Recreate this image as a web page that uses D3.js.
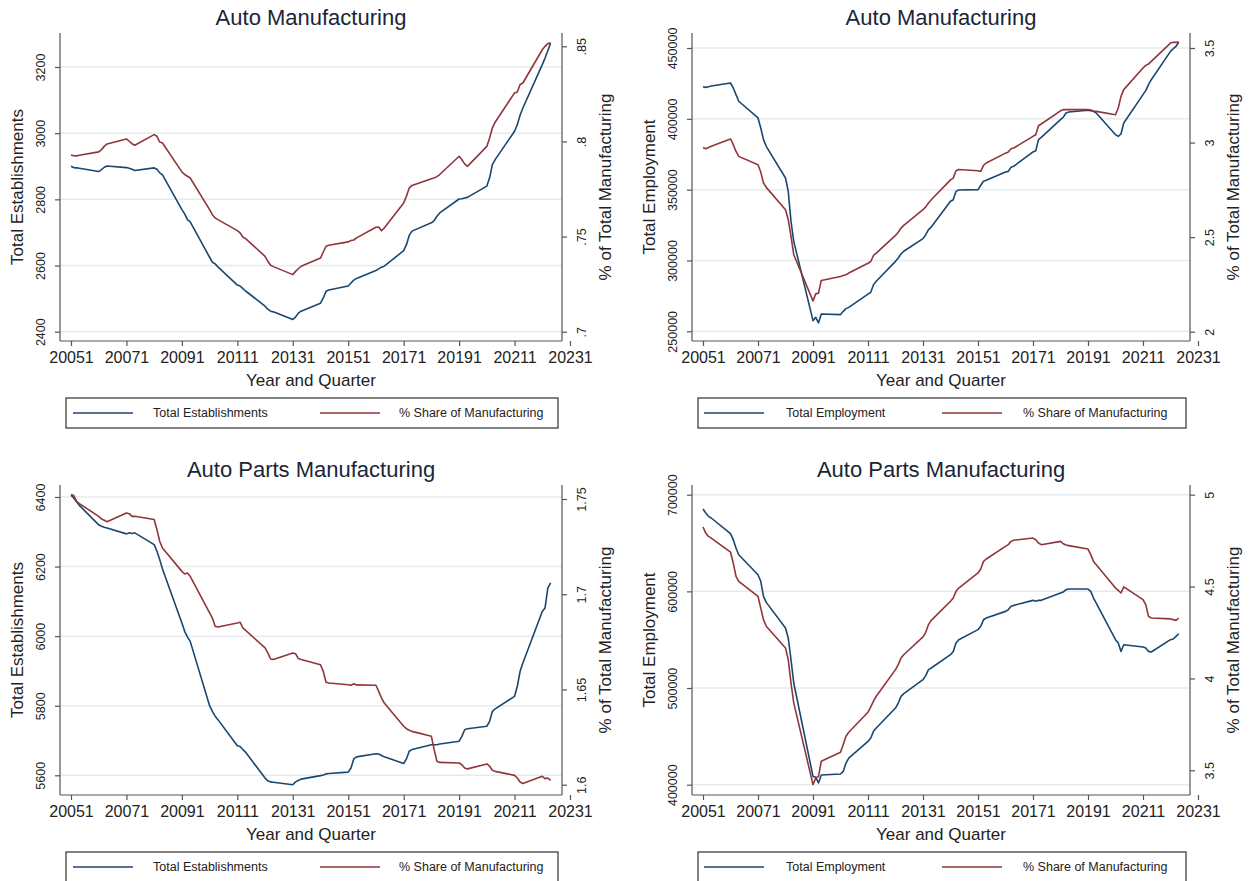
<!DOCTYPE html>
<html>
<head>
<meta charset="utf-8">
<script src="https://cdn.jsdelivr.net/npm/d3@7"></script>
<style>
  body { margin: 0; background: #fff; }
  svg { display: block; font-family: "Liberation Sans", Arial, sans-serif; }
</style>
</head>
<body>
<svg id="chart" width="1252" height="881"></svg>
<script>
// year*10 + quarter, as Stata stores it
const quarters = [
  20051, 20052, 20053, 20054, 20061, 20062, 20063, 20064,
  20071, 20072, 20073, 20074, 20081, 20082, 20083, 20084,
  20091, 20092, 20093, 20094, 20101, 20102, 20103, 20104,
  20111, 20112, 20113, 20114, 20121, 20122, 20123, 20124,
  20131, 20132, 20133, 20134, 20141, 20142, 20143, 20144,
  20151, 20152, 20153, 20154, 20161, 20162, 20163, 20164,
  20171, 20172, 20173, 20174, 20181, 20182, 20183, 20184,
  20191, 20192, 20193, 20194, 20201, 20202, 20203, 20204,
  20211, 20212, 20213, 20214, 20221, 20222, 20223, 20224
];
const xTicks = [20051, 20071, 20091, 20111, 20131, 20151, 20171, 20191, 20211, 20231];

// Auto manufacturing - establishments
const autoEstab = [
  2900, 2896, 2895, 2894, 2884, 2890, 2897, 2901,
  2896, 2894, 2891, 2887, 2895, 2891, 2880, 2874,
  2769, 2756, 2739, 2732, 2625, 2610, 2605, 2596,
  2541, 2538, 2530, 2523, 2477, 2468, 2462, 2460,
  2437, 2444, 2456, 2462, 2486, 2502, 2522, 2526,
  2538, 2547, 2556, 2561, 2585, 2590, 2595, 2598,
  2645, 2663, 2691, 2704, 2729, 2736, 2749, 2759,
  2801, 2802, 2804, 2806, 2840, 2865, 2905, 2920,
  3006, 3026, 3054, 3076, 3207, 3227, 3249, 3272
];
const autoEstabShare = [
  .7929, .7925, .7924, .7927, .7945, .7957, .7974, .7987,
  .8013, .8001, .7988, .7980, .8036, .8027, .7997, .7992,
  .7840, .7826, .7817, .7808, .7642, .7615, .7598, .7589,
  .7531, .7519, .7498, .7489, .7396, .7370, .7349, .7342,
  .7300, .7317, .7331, .7344, .7387, .7419, .7449, .7454,
  .7472, .7479, .7482, .7493, .7549, .7550, .7531, .7545,
  .7677, .7712, .7755, .7769, .7804, .7808, .7815, .7826,
  .7922, .7904, .7882, .7869, .7974, .8018, .8071, .8101,
  .8255, .8260, .8299, .8307, .8482, .8500, .8514, .8518
];

// Auto manufacturing - employment
const autoEmp = [
  422700, 422200, 422700, 423200, 425300, 421800, 417100, 412400,
  400600, 393500, 385300, 380600, 358200, 348800, 327600, 313500,
  257500, 259900, 255900, 262200, 261800, 264100, 266000, 266900,
  276300, 277500, 282900, 285300, 299400, 301800, 304600, 306500,
  315400, 318200, 321800, 323600, 341800, 342900, 348800, 349800,
  350000, 353100, 355900, 356600, 362500, 362900, 365800, 366500,
  376600, 377500, 385300, 386900, 399400, 401100, 404100, 404800,
  406000, 405800, 405300, 404100, 388800, 387600, 389300, 397100,
  417100, 419900, 424100, 427600, 447600, 449500, 451200, 454200
];
const autoEmpShare = [
  2.974, 2.967, 2.974, 2.980, 3.019, 2.989, 2.953, 2.927,
  2.883, 2.844, 2.786, 2.763, 2.645, 2.592, 2.504, 2.407,
  2.163, 2.200, 2.204, 2.271, 2.292, 2.297, 2.301, 2.310,
  2.362, 2.371, 2.403, 2.415, 2.509, 2.526, 2.548, 2.562,
  2.645, 2.660, 2.680, 2.698, 2.803, 2.812, 2.851, 2.858,
  2.851, 2.847, 2.879, 2.892, 2.944, 2.950, 2.967, 2.971,
  3.033, 3.041, 3.089, 3.098, 3.168, 3.174, 3.174, 3.174,
  3.175, 3.172, 3.167, 3.165, 3.147, 3.183, 3.244, 3.280,
  3.394, 3.408, 3.415, 3.429, 3.526, 3.530, 3.530, 3.532
];

// Auto parts manufacturing - establishments
const partsEstab = [
  6405, 6397, 6386, 6376, 6320, 6316, 6313, 6311,
  6294, 6297, 6295, 6297, 6263, 6244, 6220, 6193,
  6038, 6014, 5998, 5985, 5800, 5784, 5770, 5760,
  5685, 5683, 5674, 5666, 5592, 5584, 5581, 5580,
  5573, 5581, 5585, 5589, 5599, 5601, 5604, 5605,
  5609, 5621, 5647, 5653, 5662, 5661, 5657, 5653,
  5634, 5647, 5669, 5674, 5688, 5688, 5688, 5690,
  5698, 5712, 5731, 5734, 5741, 5755, 5784, 5791,
  5827, 5856, 5899, 5923, 6071, 6081, 6138, 6153
];
const partsEstabShare = [
  1.7523, 1.7518, 1.7488, 1.7476, 1.7409, 1.7395, 1.7388, 1.7381,
  1.7427, 1.7423, 1.7409, 1.7409, 1.7392, 1.7339, 1.7278, 1.7243,
  1.7120, 1.7106, 1.7111, 1.7094, 1.6902, 1.6875, 1.6832, 1.6828,
  1.6849, 1.6853, 1.6823, 1.6810, 1.6718, 1.6692, 1.6660, 1.6657,
  1.6692, 1.6688, 1.6662, 1.6657, 1.6630, 1.6595, 1.6538, 1.6534,
  1.6525, 1.6522, 1.6530, 1.6524, 1.6522, 1.6490, 1.6455, 1.6429,
  1.6307, 1.6294, 1.6286, 1.6280, 1.6254, 1.6184, 1.6123, 1.6117,
  1.6114, 1.6105, 1.6088, 1.6083, 1.6109, 1.6097, 1.6076, 1.6070,
  1.6049, 1.6035, 1.6014, 1.6006, 1.6044, 1.6032, 1.6035, 1.6023
];

// Auto parts manufacturing - employment
const partsEmp = [
  685200, 681000, 677600, 675900, 659700, 653500, 644800, 637900,
  617200, 610400, 594800, 588600, 562100, 551700, 529300, 505200,
  408600, 407600, 401800, 410000, 411100, 413800, 422400, 427600,
  444800, 448300, 455200, 458600, 479300, 484500, 491400, 494200,
  508600, 512800, 519000, 520700, 534500, 537900, 546600, 550000,
  560400, 563800, 570700, 572400, 579300, 581000, 584500, 585500,
  590700, 589700, 590700, 590700, 598300, 599300, 601700, 602400,
  602400, 600000, 593100, 587900, 550000, 546600, 537900, 544800,
  542400, 541400, 537900, 537300, 550000, 550700, 553500, 556200
];
const partsEmpShare = [
  4.824, 4.791, 4.773, 4.764, 4.688, 4.628, 4.556, 4.528,
  4.447, 4.383, 4.320, 4.284, 4.166, 4.102, 3.975, 3.867,
  3.422, 3.458, 3.467, 3.549, 3.598, 3.640, 3.685, 3.707,
  3.816, 3.845, 3.876, 3.903, 4.048, 4.075, 4.111, 4.129,
  4.226, 4.251, 4.293, 4.316, 4.420, 4.438, 4.474, 4.492,
  4.574, 4.596, 4.637, 4.650, 4.719, 4.728, 4.746, 4.752,
  4.764, 4.755, 4.737, 4.728, 4.746, 4.733, 4.726, 4.723,
  4.704, 4.674, 4.637, 4.619, 4.492, 4.479, 4.465, 4.498,
  4.429, 4.402, 4.338, 4.329, 4.324, 4.320, 4.316, 4.329
];

// axis ticks
const autoEstabTicks = [2400, 2600, 2800, 3000, 3200];
const autoEstabShareTicks = [0.7, 0.75, 0.8, 0.85];
const autoEmpTicks = [250000, 300000, 350000, 400000, 450000];
const autoEmpShareTicks = [2, 2.5, 3, 3.5];
const partsEstabTicks = [5600, 5800, 6000, 6200, 6400];
const partsEstabShareTicks = [1.6, 1.65, 1.7, 1.75];
const partsEmpTicks = [400000, 500000, 600000, 700000];
const partsEmpShareTicks = [3.5, 4, 4.5, 5];

const blue = "#1a476f";
const red = "#90353b";
const shareLabel = "% Share of Manufacturing";

const panels = [
  { title: "Auto Manufacturing", left: 60, right: 562, top: 33, bottom: 341,
    lTitle: "Total Establishments", lName: "Total Establishments",
    lVals: autoEstab, lTicks: autoEstabTicks, lRange: [331.7, 67],
    rVals: autoEstabShare, rTicks: autoEstabShareTicks, rRange: [331.7, 46.3],
    legend: { x: 66, w: 492, s1: 7, t1: 87, s2: 254, t2: 333 } },
  { title: "Auto Manufacturing", left: 692, right: 1190, top: 33, bottom: 341,
    lTitle: "Total Employment", lName: "Total Employment",
    lVals: autoEmp, lTicks: autoEmpTicks, lRange: [331.3, 48],
    rVals: autoEmpShare, rTicks: autoEmpShareTicks, rRange: [331.7, 48],
    legend: { x: 698, w: 488, s1: 6, t1: 88, s2: 244, t2: 325 } },
  { title: "Auto Parts Manufacturing", left: 60, right: 562, top: 485, bottom: 795,
    lTitle: "Total Establishments", lName: "Total Establishments",
    lVals: partsEstab, lTicks: partsEstabTicks, lRange: [775.3, 497],
    rVals: partsEstabShare, rTicks: partsEstabShareTicks, rRange: [784.7, 499],
    legend: { x: 66, w: 492, s1: 7, t1: 87, s2: 254, t2: 333 } },
  { title: "Auto Parts Manufacturing", left: 692, right: 1190, top: 485, bottom: 795,
    lTitle: "Total Employment", lName: "Total Employment",
    lVals: partsEmp, lTicks: partsEmpTicks, lRange: [784.7, 494.7],
    rVals: partsEmpShare, rTicks: partsEmpShareTicks, rRange: [770.3, 494.7],
    legend: { x: 698, w: 488, s1: 6, t1: 88, s2: 244, t2: 325 } }
];

const svg = d3.select("#chart");
const fmtShare = d => String(d).replace(/^0\./, ".");

panels.forEach(p => {
  const g = svg.append("g");
  const x = d3.scaleLinear().domain([20051, 20231]).range([p.left + 11, p.right + 8]);
  const yL = d3.scaleLinear().domain(d3.extent(p.lTicks)).range(p.lRange);
  const yR = d3.scaleLinear().domain(d3.extent(p.rTicks)).range(p.rRange);

  //gridlines
  g.selectAll("line.grid")
    .data(p.lTicks)
    .join("line")
    .attr("class", "grid")
    .attr("x1", p.left).attr("x2", p.right)
    .attr("y1", d => yL(d)).attr("y2", d => yL(d))
    .attr("stroke", "#e4ecee")
    .attr("stroke-width", 1.5);

  const rows = quarters.map((q, i) => ({ q: q, a: p.lVals[i], b: p.rVals[i] }));

  g.append("path")
    .datum(rows)
    .attr("fill", "none")
    .attr("stroke", blue)
    .attr("stroke-width", 1.6)
    .attr("stroke-linejoin", "round")
    .attr("d", d3.line().x(d => x(d.q)).y(d => yL(d.a)));

  g.append("path")
    .datum(rows)
    .attr("fill", "none")
    .attr("stroke", red)
    .attr("stroke-width", 1.6)
    .attr("stroke-linejoin", "round")
    .attr("d", d3.line().x(d => x(d.q)).y(d => yR(d.b)));

  // axis lines
  const axisColor = "#555";
  g.append("line").attr("x1", p.left).attr("x2", p.left).attr("y1", p.top).attr("y2", p.bottom)
    .attr("stroke", axisColor).attr("stroke-width", 1.2);
  g.append("line").attr("x1", p.right).attr("x2", p.right).attr("y1", p.top).attr("y2", p.bottom)
    .attr("stroke", axisColor).attr("stroke-width", 1.2);
  g.append("line").attr("x1", p.left).attr("x2", p.right).attr("y1", p.bottom).attr("y2", p.bottom)
    .attr("stroke", axisColor).attr("stroke-width", 1.2);

  // left axis
  const la = g.append("g")
    .attr("transform", `translate(${p.left},0)`)
    .call(d3.axisLeft(yL).tickValues(p.lTicks).tickSize(5).tickFormat(d3.format("d")));
  la.select(".domain").remove();
  la.selectAll(".tick line").attr("stroke", axisColor).attr("stroke-width", 1.2);
  la.selectAll(".tick text")
    .attr("x", null).attr("dy", "0.35em")
    .attr("transform", "translate(-19,0) rotate(-90)")
    .attr("text-anchor", "middle")
    .style("font-size", "12.5px")
    .attr("fill", "#222");

  // right axis
  const ra = g.append("g")
    .attr("transform", `translate(${p.right},0)`)
    .call(d3.axisRight(yR).tickValues(p.rTicks).tickSize(5).tickFormat(fmtShare));
  ra.select(".domain").remove();
  ra.selectAll(".tick line").attr("stroke", axisColor).attr("stroke-width", 1.2);
  ra.selectAll(".tick text")
    .attr("x", null).attr("dy", "0.35em")
    .attr("transform", "translate(20,0) rotate(-90)")
    .attr("text-anchor", "middle")
    .style("font-size", "12.5px")
    .attr("fill", "#222");

  // bottom axis
  const ba = g.append("g")
    .attr("transform", `translate(0,${p.bottom})`)
    .call(d3.axisBottom(x).tickValues(xTicks).tickSize(5).tickPadding(6).tickFormat(d3.format("d")));
  ba.select(".domain").remove();
  ba.selectAll(".tick line").attr("stroke", axisColor).attr("stroke-width", 1.2);
  ba.selectAll(".tick text")
    .style("font-size", "16px")
    .attr("fill", "#222");

  const cx = (p.left + p.right) / 2;
  const cy = (p.top + p.bottom) / 2;

  g.append("text")
    .attr("x", cx).attr("y", p.top - 8)
    .attr("text-anchor", "middle")
    .style("font-size", "22px")
    .attr("fill", "#1a2638")
    .text(p.title);

  g.append("text")
    .attr("x", cx).attr("y", p.bottom + 45)
    .attr("text-anchor", "middle")
    .style("font-size", "17px")
    .attr("fill", "#222")
    .text("Year and Quarter");

  g.append("text")
    .attr("transform", `translate(${p.left - 43},${cy}) rotate(-90)`)
    .attr("dy", "0.35em")
    .attr("text-anchor", "middle")
    .style("font-size", "17px")
    .attr("fill", "#222")
    .text(p.lTitle);

  g.append("text")
    .attr("transform", `translate(${p.right + 43},${cy}) rotate(-90)`)
    .attr("dy", "0.35em")
    .attr("text-anchor", "middle")
    .style("font-size", "17px")
    .attr("fill", "#222")
    .text("% of Total Manufacturing");

  // legend
  const lg = p.legend;
  const ly = p.bottom + 72;
  g.append("rect")
    .attr("x", lg.x).attr("y", ly - 15)
    .attr("width", lg.w).attr("height", 30)
    .attr("fill", "#fff")
    .attr("stroke", "#333")
    .attr("stroke-width", 1.2);
  const items = [
    { name: p.lName, color: blue, s: lg.s1, t: lg.t1 },
    { name: shareLabel, color: red, s: lg.s2, t: lg.t2 }
  ];
  items.forEach(it => {
    g.append("line")
      .attr("x1", lg.x + it.s).attr("x2", lg.x + it.s + 60)
      .attr("y1", ly).attr("y2", ly)
      .attr("stroke", it.color).attr("stroke-width", 1.6);
    g.append("text")
      .attr("x", lg.x + it.t).attr("y", ly)
      .attr("dy", "0.35em")
      .style("font-size", "12.5px")
      .attr("fill", "#222")
      .text(it.name);
  });
});
</script>
</body>
</html>
